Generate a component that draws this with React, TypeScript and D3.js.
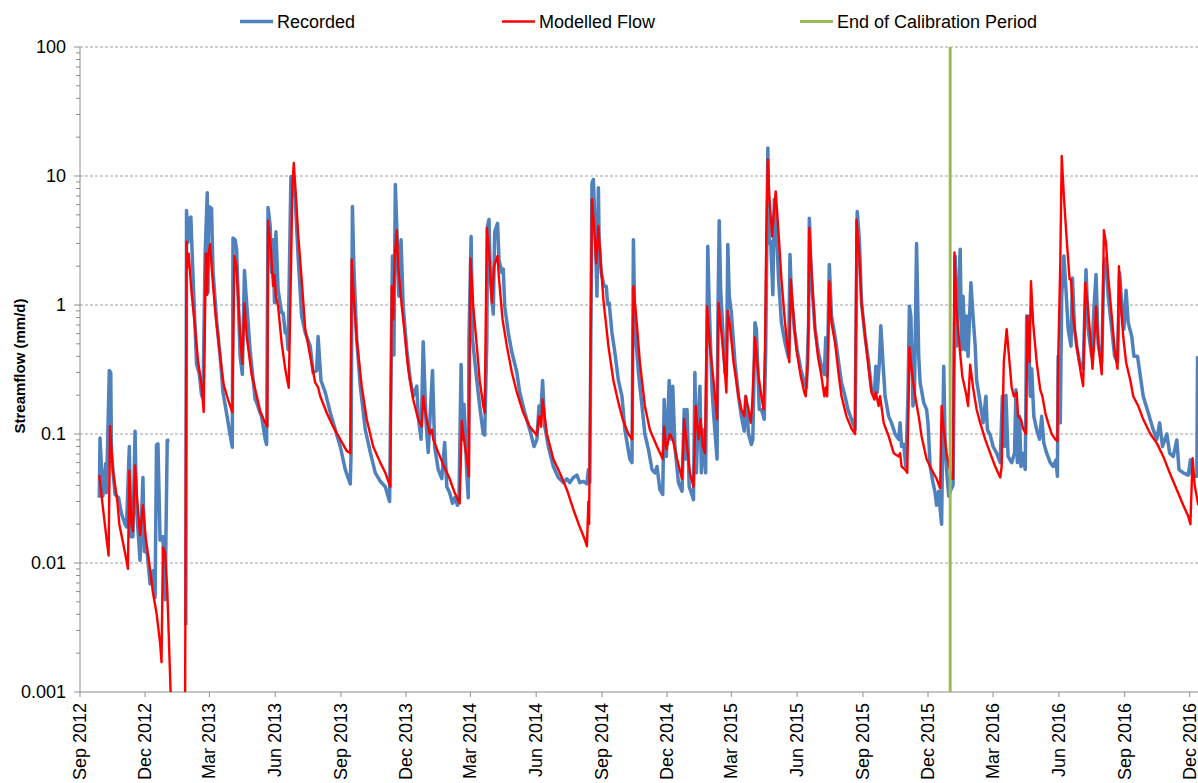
import React from "react";
import * as d3 from "d3";

// daily streamflow, mm/d (at the turning points)
const recorded: [string, number | null][] = [
  ["2012-09-28",0.032],["2012-09-29",0.093],["2012-10-03",0.033],["2012-10-07",0.059],["2012-10-08",0.035],["2012-10-12",0.31],["2012-10-14",0.3],["2012-10-15",0.071],["2012-10-20",0.034],["2012-10-25",0.032],["2012-10-29",0.024],["2012-11-03",0.02],["2012-11-05",0.019],["2012-11-09",0.08],["2012-11-11",0.016],["2012-11-14",0.016],["2012-11-17",0.105],["2012-11-19",0.027],["2012-11-24",0.0105],["2012-11-28",0.046],["2012-11-30",0.0123],["2012-12-04",0.012],["2012-12-08",0.0069],["2012-12-12",0.0087],["2012-12-15",0.0054],["2012-12-17",0.082],["2012-12-19",0.084],["2012-12-22",0.015],["2012-12-26",0.016],["2012-12-29",0.0052],["2013-01-01",0.089],["2013-01-04",0.09],["2013-01-05",null],
  ["2013-01-27",0.0033],["2013-01-28",5.4],["2013-01-30",3.05],["2013-01-31",4.6],["2013-02-03",4.8],["2013-02-06",1.72],["2013-02-09",0.66],["2013-02-11",0.35],["2013-02-15",0.29],["2013-02-18",0.2],["2013-02-20",0.19],["2013-02-23",2.5],["2013-02-26",7.4],["2013-02-27",1.25],["2013-02-28",5.8],["2013-03-04",5.6],["2013-03-06",1.85],["2013-03-11",0.76],["2013-03-16",0.4],["2013-03-20",0.21],["2013-03-25",0.145],["2013-03-30",0.098],["2013-04-02",0.079],["2013-04-03",3.3],["2013-04-06",3.2],["2013-04-08",2.7],["2013-04-13",0.4],["2013-04-16",0.29],["2013-04-19",1.85],["2013-04-21",1.25],["2013-04-27",0.44],["2013-05-04",0.185],["2013-05-06",0.176],["2013-05-11",0.145],["2013-05-13",0.137],["2013-05-18",0.091],["2013-05-20",0.083],["2013-05-22",5.7],["2013-05-25",4.1],["2013-05-27",1.78],["2013-05-29",3.2],["2013-05-31",1.04],["2013-06-02",3.7],["2013-06-05",1.32],["2013-06-10",0.87],["2013-06-12",0.87],["2013-06-15",0.61],["2013-06-17",0.64],["2013-06-19",0.45],["2013-06-23",9.9],["2013-06-25",9.7],["2013-06-29",6.6],["2013-07-03",2.4],["2013-07-08",0.82],["2013-07-13",0.61],["2013-07-20",0.48],["2013-07-24",0.3],["2013-07-29",0.31],["2013-07-31",0.57],["2013-08-04",0.26],["2013-08-10",0.21],["2013-08-17",0.147],["2013-08-24",0.108],["2013-08-31",0.08],["2013-09-07",0.053],["2013-09-14",0.041],["2013-09-15",0.067],["2013-09-17",5.8],["2013-09-19",2.0],["2013-09-23",0.54],["2013-09-28",0.235],["2013-10-05",0.108],["2013-10-12",0.072],["2013-10-19",0.05],["2013-10-26",0.043],["2013-11-02",0.039],["2013-11-08",0.03],["2013-11-10",0.3],["2013-11-12",2.4],["2013-11-14",0.41],["2013-11-16",8.6],["2013-11-18",4.1],["2013-11-21",1.17],["2013-11-24",3.2],["2013-11-27",0.98],["2013-12-02",0.45],["2013-12-07",0.26],["2013-12-11",0.196],["2013-12-16",0.235],["2013-12-18",0.137],["2013-12-22",0.091],["2013-12-25",0.52],["2013-12-29",0.123],
  ["2014-01-01",0.072],["2014-01-07",0.31],["2014-01-10",0.08],["2014-01-15",0.053],["2014-01-20",0.045],["2014-01-24",0.086],["2014-01-27",0.039],["2014-01-31",0.035],["2014-02-04",0.029],["2014-02-07",0.032],["2014-02-11",0.028],["2014-02-13",0.031],["2014-02-16",0.345],["2014-02-18",0.091],["2014-02-20",0.17],["2014-02-24",0.05],["2014-02-26",0.032],["2014-02-27",0.54],["2014-03-02",3.4],["2014-03-04",0.54],["2014-03-10",0.26],["2014-03-14",0.165],["2014-03-19",0.1],["2014-03-21",0.098],["2014-03-24",0.54],["2014-03-25",4.1],["2014-03-27",4.6],["2014-03-29",1.58],["2014-04-02",0.85],["2014-04-04",3.7],["2014-04-08",4.3],["2014-04-10",2.25],["2014-04-14",1.78],["2014-04-16",1.9],["2014-04-18",0.98],["2014-04-23",0.61],["2014-04-28",0.43],["2014-05-05",0.3],["2014-05-09",0.21],["2014-05-16",0.147],["2014-05-23",0.108],["2014-05-29",0.08],["2014-06-02",0.091],["2014-06-05",0.165],["2014-06-07",0.13],["2014-06-10",0.26],["2014-06-13",0.115],["2014-06-18",0.08],["2014-06-25",0.056],["2014-07-02",0.046],["2014-07-09",0.042],["2014-07-14",0.045],["2014-07-18",0.042],["2014-07-23",0.046],["2014-07-28",0.048],["2014-08-01",0.042],["2014-08-06",0.043],["2014-08-11",0.041],["2014-08-13",0.053],["2014-08-15",0.042],["2014-08-18",8.8],["2014-08-20",9.4],["2014-08-23",3.2],["2014-08-25",1.17],["2014-08-27",8.1],["2014-08-28",3.2],["2014-08-31",1.78],["2014-09-04",1.4],["2014-09-07",1.4],["2014-09-09",1.01],["2014-09-11",1.04],["2014-09-15",0.61],["2014-09-19",0.43],["2014-09-24",0.26],["2014-09-29",0.196],["2014-10-03",0.108],["2014-10-07",0.08],["2014-10-10",0.064],["2014-10-13",0.06],["2014-10-15",3.2],["2014-10-17",0.69],["2014-10-22",0.3],["2014-10-27",0.165],["2014-10-31",0.1],["2014-11-05",0.076],["2014-11-10",0.053],["2014-11-14",0.05],["2014-11-17",0.056],["2014-11-21",0.037],["2014-11-25",0.034],["2014-11-27",0.185],["2014-11-30",0.067],["2014-12-02",0.122],["2014-12-04",0.26],["2014-12-07",0.091],["2014-12-09",0.235],["2014-12-12",0.08],["2014-12-17",0.042],["2014-12-22",0.036],["2014-12-25",0.155],["2014-12-27",0.064],["2014-12-29",0.155],
  ["2015-01-01",0.039],["2015-01-04",0.035],["2015-01-07",0.031],["2015-01-09",0.3],["2015-01-11",0.05],["2015-01-14",0.146],["2015-01-16",0.235],["2015-01-18",0.05],["2015-01-21",0.108],["2015-01-24",0.05],["2015-01-27",2.85],["2015-01-29",0.98],["2015-02-02",0.22],["2015-02-04",0.146],["2015-02-09",0.064],["2015-02-10",0.69],["2015-02-12",4.5],["2015-02-14",1.32],["2015-02-18",0.5],["2015-02-20",0.3],["2015-02-22",0.28],["2015-02-24",2.95],["2015-02-26",1.17],["2015-03-01",0.87],["2015-03-06",0.36],["2015-03-11",0.196],["2015-03-15",0.137],["2015-03-19",0.105],["2015-03-21",0.196],["2015-03-25",0.1],["2015-03-29",0.083],["2015-03-31",0.091],["2015-04-03",0.73],["2015-04-05",0.65],["2015-04-09",0.155],["2015-04-12",0.155],["2015-04-16",0.13],["2015-04-18",0.45],["2015-04-21",16.5],["2015-04-23",3.0],["2015-04-25",3.1],["2015-04-28",1.2],["2015-04-30",6.6],["2015-05-02",5.2],["2015-05-06",1.58],["2015-05-10",0.73],["2015-05-15",0.51],["2015-05-20",0.39],["2015-05-22",2.46],["2015-05-24",1.17],["2015-05-28",0.65],["2015-06-01",0.45],["2015-06-06",0.32],["2015-06-11",0.25],["2015-06-14",0.23],["2015-06-17",0.73],["2015-06-18",4.7],["2015-06-21",1.58],["2015-06-26",0.65],["2015-06-30",0.45],["2015-07-05",0.335],["2015-07-09",0.29],["2015-07-11",0.56],["2015-07-13",0.28],["2015-07-16",2.06],["2015-07-19",0.82],["2015-07-24",0.57],["2015-07-29",0.36],["2015-08-02",0.25],["2015-08-07",0.196],["2015-08-11",0.155],["2015-08-16",0.13],["2015-08-21",0.108],["2015-08-24",5.3],["2015-08-27",3.2],["2015-08-30",1.04],["2015-09-04",0.57],["2015-09-09",0.36],["2015-09-13",0.22],["2015-09-17",0.196],["2015-09-19",0.335],["2015-09-21",0.21],["2015-09-24",0.36],["2015-09-26",0.69],["2015-09-29",0.36],["2015-10-02",0.196],["2015-10-07",0.137],["2015-10-11",0.122],["2015-10-16",0.1],["2015-10-21",0.091],["2015-10-23",0.122],["2015-10-25",0.08],["2015-10-28",0.083],["2015-10-31",0.056],["2015-11-03",0.196],["2015-11-05",0.98],["2015-11-07",0.82],["2015-11-10",0.165],["2015-11-12",0.196],["2015-11-15",3.0],["2015-11-18",0.4],["2015-11-20",0.25],["2015-11-25",0.175],["2015-11-29",0.155],["2015-12-01",0.122],["2015-12-04",0.056],["2015-12-08",0.042],["2015-12-11",0.035],["2015-12-13",0.028],["2015-12-16",0.036],["2015-12-18",0.026],["2015-12-20",0.02],["2015-12-23",0.335],["2015-12-25",0.08],["2015-12-27",0.053],["2015-12-30",0.033],
  ["2016-01-02",0.037],["2016-01-05",0.04],["2016-01-08",2.4],["2016-01-10",0.48],["2016-01-12",1.04],["2016-01-15",2.7],["2016-01-17",0.45],["2016-01-19",1.17],["2016-01-22",0.45],["2016-01-24",0.82],["2016-01-26",0.4],["2016-01-30",1.49],["2016-02-02",0.82],["2016-02-05",0.48],["2016-02-07",0.26],["2016-02-12",0.175],["2016-02-16",0.122],["2016-02-20",0.196],["2016-02-22",0.108],["2016-02-26",0.098],["2016-03-01",0.08],["2016-03-06",0.071],["2016-03-11",0.06],["2016-03-14",0.196],["2016-03-17",0.08],["2016-03-19",0.2],["2016-03-22",0.067],["2016-03-27",0.06],["2016-03-31",0.071],["2016-04-02",0.22],["2016-04-04",0.06],["2016-04-07",0.137],["2016-04-09",0.056],["2016-04-11",0.071],["2016-04-15",0.053],["2016-04-17",0.82],["2016-04-19",0.82],["2016-04-22",0.196],["2016-04-24",0.32],["2016-04-27",0.137],["2016-05-01",0.108],["2016-05-05",0.091],["2016-05-08",0.137],["2016-05-11",0.085],["2016-05-15",0.071],["2016-05-20",0.06],["2016-05-24",0.056],["2016-05-28",0.063],["2016-05-30",0.047],["2016-05-31",0.4],["2016-06-03",0.122],["2016-06-05",1.17],["2016-06-08",2.4],["2016-06-11",1.3],["2016-06-14",0.65],["2016-06-18",0.48],["2016-06-20",1.62],["2016-06-23",0.65],["2016-06-26",0.48],["2016-06-30",0.36],["2016-07-05",0.32],["2016-07-09",1.88],["2016-07-12",0.65],["2016-07-17",0.4],["2016-07-20",0.92],["2016-07-23",1.72],["2016-07-26",0.5],["2016-07-31",0.36],["2016-08-03",2.1],["2016-08-06",2.3],["2016-08-09",1.17],["2016-08-14",0.65],["2016-08-18",0.4],["2016-08-22",0.36],["2016-08-25",1.78],["2016-08-29",0.82],["2016-08-31",0.65],["2016-09-03",1.3],["2016-09-06",0.73],["2016-09-11",0.57],["2016-09-14",0.4],["2016-09-19",0.4],["2016-09-23",0.28],["2016-09-27",0.196],["2016-10-04",0.146],["2016-10-11",0.108],["2016-10-16",0.091],["2016-10-20",0.122],["2016-10-24",0.08],["2016-10-30",0.1],["2016-11-03",0.071],["2016-11-08",0.067],["2016-11-13",0.09],["2016-11-16",0.053],["2016-11-22",0.05],["2016-11-29",0.048],["2016-12-02",0.063],["2016-12-05",0.047],["2016-12-11",0.047],["2016-12-12",0.4],
];

const modelled: [string, number][] = [
  ["2012-09-28",0.048],["2012-10-03",0.027],["2012-10-08",0.0156],["2012-10-11",0.0114],["2012-10-13",0.115],["2012-10-17",0.052],["2012-10-23",0.031],["2012-10-26",0.02],["2012-10-31",0.0145],["2012-11-05",0.0105],["2012-11-07",0.009],["2012-11-09",0.052],["2012-11-12",0.02],["2012-11-14",0.0176],["2012-11-17",0.057],["2012-11-20",0.031],["2012-11-24",0.0164],["2012-11-28",0.028],["2012-12-02",0.0156],["2012-12-07",0.0098],["2012-12-12",0.0059],["2012-12-17",0.0041],["2012-12-22",0.0024],["2012-12-24",0.0017],["2012-12-26",0.0132],["2012-12-29",0.012],["2013-01-01",0.0063],["2013-01-06",0.0009],["2013-01-12",0.0003],["2013-01-20",0.0003],["2013-01-26",0.0009],
  ["2013-01-28",3.1],["2013-01-29",1.95],["2013-01-31",2.5],["2013-02-04",1.25],["2013-02-09",0.66],["2013-02-13",0.37],["2013-02-18",0.24],["2013-02-21",0.148],["2013-02-24",2.5],["2013-02-26",1.2],["2013-02-27",2.4],["2013-03-02",2.96],["2013-03-04",2.0],["2013-03-09",0.91],["2013-03-16",0.4],["2013-03-21",0.24],["2013-03-27",0.185],["2013-04-02",0.148],["2013-04-05",2.4],["2013-04-08",1.95],["2013-04-13",0.58],["2013-04-16",0.35],["2013-04-19",1.03],["2013-04-22",0.58],["2013-04-29",0.29],["2013-05-06",0.2],["2013-05-11",0.15],["2013-05-18",0.122],["2013-05-21",0.114],["2013-05-22",4.5],["2013-05-26",2.7],["2013-05-29",1.4],["2013-05-31",1.7],["2013-06-02",1.17],["2013-06-05",0.98],["2013-06-10",0.51],["2013-06-15",0.32],["2013-06-18",0.26],["2013-06-20",0.228],["2013-06-23",1.78],["2013-06-25",8.3],["2013-06-27",12.6],["2013-06-30",7.0],["2013-07-03",3.6],["2013-07-08",1.58],["2013-07-13",0.65],["2013-07-20",0.4],["2013-07-27",0.25],["2013-07-31",0.23],["2013-08-03",0.196],["2013-08-12",0.146],["2013-08-21",0.114],["2013-08-31",0.091],["2013-09-09",0.074],["2013-09-14",0.071],["2013-09-16",2.25],["2013-09-19",1.1],["2013-09-23",0.54],["2013-09-30",0.235],["2013-10-07",0.13],["2013-10-16",0.08],["2013-10-26",0.06],["2013-11-02",0.05],["2013-11-09",0.039],["2013-11-11",1.4],["2013-11-13",0.77],["2013-11-15",2.25],["2013-11-18",3.8],["2013-11-20",2.0],["2013-11-25",0.98],["2013-11-30",0.54],["2013-12-04",0.32],["2013-12-11",0.185],["2013-12-18",0.13],["2013-12-23",0.114],["2013-12-25",0.196],["2013-12-29",0.137],
  ["2014-01-03",0.1],["2014-01-06",0.108],["2014-01-08",0.091],["2014-01-15",0.072],["2014-01-22",0.058],["2014-01-31",0.045],["2014-02-07",0.035],["2014-02-14",0.029],["2014-02-17",0.126],["2014-02-19",0.1],["2014-02-24",0.064],["2014-02-27",0.047],["2014-03-01",2.3],["2014-03-05",0.98],["2014-03-10",0.48],["2014-03-14",0.26],["2014-03-19",0.165],["2014-03-21",0.146],["2014-03-24",3.96],["2014-03-27",2.7],["2014-03-31",1.04],["2014-04-03",2.0],["2014-04-08",2.4],["2014-04-10",1.6],["2014-04-15",0.77],["2014-04-21",0.48],["2014-04-28",0.3],["2014-05-05",0.21],["2014-05-14",0.146],["2014-05-23",0.114],["2014-06-02",0.098],["2014-06-05",0.137],["2014-06-08",0.114],["2014-06-10",0.185],["2014-06-16",0.1],["2014-06-25",0.064],["2014-07-04",0.05],["2014-07-14",0.037],["2014-07-23",0.026],["2014-08-01",0.019],["2014-08-08",0.0152],["2014-08-11",0.0135],["2014-08-13",0.03],["2014-08-14",0.02],["2014-08-18",6.6],["2014-08-21",4.1],["2014-08-24",2.1],["2014-08-27",4.1],["2014-08-30",2.25],["2014-09-03",1.1],["2014-09-10",0.48],["2014-09-17",0.26],["2014-09-24",0.175],["2014-09-30",0.13],["2014-10-08",0.1],["2014-10-13",0.091],["2014-10-15",1.4],["2014-10-20",0.69],["2014-10-24",0.36],["2014-10-31",0.165],["2014-11-07",0.108],["2014-11-17",0.08],["2014-11-25",0.064],["2014-11-27",0.114],["2014-11-30",0.076],["2014-12-05",0.1],["2014-12-09",0.091],["2014-12-15",0.064],["2014-12-22",0.045],["2014-12-25",0.13],["2014-12-29",0.08],
  ["2015-01-02",0.05],["2015-01-07",0.039],["2015-01-10",0.165],["2015-01-14",0.091],["2015-01-17",0.13],["2015-01-20",0.08],["2015-01-23",0.071],["2015-01-26",0.98],["2015-01-30",0.48],["2015-02-04",0.26],["2015-02-09",0.13],["2015-02-11",1.04],["2015-02-16",0.54],["2015-02-20",0.3],["2015-02-22",0.21],["2015-02-24",0.9],["2015-02-27",0.69],["2015-03-04",0.36],["2015-03-11",0.196],["2015-03-15",0.155],["2015-03-19",0.137],["2015-03-21",0.196],["2015-03-25",0.155],["2015-03-28",0.122],["2015-03-30",0.165],["2015-04-03",0.56],["2015-04-08",0.28],["2015-04-12",0.196],["2015-04-15",0.155],["2015-04-17",0.45],["2015-04-19",3.8],["2015-04-21",13.4],["2015-04-23",7.0],["2015-04-27",3.4],["2015-04-29",4.9],["2015-05-02",7.6],["2015-05-06",3.6],["2015-05-10",1.58],["2015-05-15",0.73],["2015-05-19",0.45],["2015-05-21",0.36],["2015-05-23",1.58],["2015-05-27",0.82],["2015-05-31",0.45],["2015-06-06",0.28],["2015-06-11",0.21],["2015-06-13",0.196],["2015-06-16",0.36],["2015-06-18",3.96],["2015-06-21",1.88],["2015-06-26",0.65],["2015-06-30",0.4],["2015-07-05",0.28],["2015-07-09",0.196],["2015-07-11",0.23],["2015-07-13",0.196],["2015-07-16",1.53],["2015-07-19",0.73],["2015-07-24",0.51],["2015-07-29",0.29],["2015-08-02",0.196],["2015-08-09",0.137],["2015-08-16",0.11],["2015-08-21",0.1],["2015-08-23",4.6],["2015-08-27",2.4],["2015-08-30",1.04],["2015-09-04",0.57],["2015-09-09",0.32],["2015-09-13",0.21],["2015-09-17",0.185],["2015-09-19",0.21],["2015-09-23",0.165],["2015-09-25",0.196],["2015-09-30",0.122],["2015-10-07",0.096],["2015-10-14",0.071],["2015-10-21",0.067],["2015-10-23",0.071],["2015-10-25",0.056],["2015-10-30",0.053],["2015-11-02",0.05],["2015-11-05",0.47],["2015-11-08",0.32],["2015-11-13",0.196],["2015-11-18",0.137],["2015-11-22",0.096],["2015-11-29",0.064],["2015-12-06",0.053],["2015-12-13",0.045],["2015-12-18",0.038],["2015-12-20",0.165],["2015-12-23",0.108],["2015-12-27",0.071],
  ["2016-01-03",0.045],["2016-01-05",0.045],["2016-01-07",2.55],["2016-01-10",0.9],["2016-01-14",0.48],["2016-01-18",0.28],["2016-01-24",0.196],["2016-01-26",0.165],["2016-01-29",0.345],["2016-02-02",0.23],["2016-02-07",0.155],["2016-02-12",0.122],["2016-02-19",0.091],["2016-02-26",0.071],["2016-03-04",0.056],["2016-03-11",0.046],["2016-03-13",0.056],["2016-03-16",0.36],["2016-03-20",0.65],["2016-03-24",0.36],["2016-03-27",0.23],["2016-03-30",0.196],["2016-04-03",0.21],["2016-04-05",0.137],["2016-04-09",0.13],["2016-04-12",0.11],["2016-04-16",0.1],["2016-04-18",0.82],["2016-04-21",0.36],["2016-04-23",1.53],["2016-04-26",0.73],["2016-05-01",0.36],["2016-05-06",0.22],["2016-05-09",0.196],["2016-05-13",0.146],["2016-05-17",0.122],["2016-05-22",0.1],["2016-05-27",0.091],["2016-05-30",0.088],["2016-05-31",0.36],["2016-06-03",2.1],["2016-06-05",14.3],["2016-06-08",7.0],["2016-06-12",3.2],["2016-06-16",1.58],["2016-06-18",1.58],["2016-06-21",0.82],["2016-06-26",0.48],["2016-07-02",0.29],["2016-07-05",0.235],["2016-07-08",1.49],["2016-07-11",1.04],["2016-07-15",0.57],["2016-07-18",0.32],["2016-07-21",0.57],["2016-07-23",0.98],["2016-07-26",0.51],["2016-07-30",0.32],["2016-07-31",0.29],["2016-08-03",3.8],["2016-08-06",3.0],["2016-08-09",1.67],["2016-08-14",0.82],["2016-08-18",0.45],["2016-08-22",0.32],["2016-08-24",2.0],["2016-08-26",1.17],["2016-08-30",0.57],["2016-09-03",0.36],["2016-09-09",0.26],["2016-09-13",0.196],["2016-09-20",0.165],["2016-09-27",0.13],["2016-10-07",0.1],["2016-10-16",0.085],["2016-10-25",0.067],["2016-11-03",0.05],["2016-11-13",0.037],["2016-11-22",0.028],["2016-11-29",0.023],["2016-12-02",0.02],["2016-12-05",0.065],["2016-12-08",0.04],["2016-12-13",0.028],
];

const calibrationEnd = "2016-01-01";
const xStart = "2012-09-01";
const xLastTick = "2016-12-01";
const yMajor = [0.001, 0.01, 0.1, 1, 10, 100];
const yLabels = ["0.001", "0.01", "0.1", "1", "10", "100"];
const legend = [
  { label: "Recorded", color: "#4F81BD", width: 3.5, x: 240 },
  { label: "Modelled Flow", color: "#FF0000", width: 2.4, x: 502 },
  { label: "End of Calibration Period", color: "#9BBB59", width: 3, x: 800 },
];

const W = 1198;
const H = 783;
const left = 80;
const right = 1198;
const top = 47;
const bottom = 692;
const font = "'Liberation Sans', Arial, sans-serif";

export default function App() {
  const parse = d3.timeParse("%Y-%m-%d");
  const x = d3.scaleTime()
    .domain([parse(xStart)!, parse(xLastTick)!])
    .range([left, 1189.7]);
  const y = d3.scaleLog().domain([0.001, 100]).range([bottom, top]);

  const line = d3.line<[string, number | null]>()
    .defined(d => d[1] !== null)
    .x(d => x(parse(d[0])!))
    .y(d => y(d[1] as number));

  const xTicks = d3.timeMonth.range(parse(xStart)!, d3.timeDay.offset(parse(xLastTick)!, 1), 3);
  const fmt = d3.timeFormat("%b %Y");
  const minor = y.ticks().filter(t => !yMajor.some(m => Math.abs(m - t) < 1e-12));
  const xCal = x(parse(calibrationEnd)!);

  return (
    <svg width={W} height={H} style={{ position: "absolute", left: 0, top: 0, background: "#fff" }} fontFamily={font}>
      <defs>
        <clipPath id="plot">
          <rect x={left} y={top - 2} width={right - left} height={bottom - top + 2} />
        </clipPath>
      </defs>

      {/* gridlines */}
      {yMajor.slice(1).map(v => (
        <line key={v} x1={left} x2={right} y1={y(v)} y2={y(v)} stroke="#a0a0a0" strokeDasharray="3,2" />
      ))}

      {/* y axis */}
      <line x1={left} x2={left} y1={top} y2={bottom} stroke="#8c8c8c" />
      {minor.map(v => (
        <line key={"m" + v} x1={left - 4} x2={left} y1={y(v)} y2={y(v)} stroke="#8c8c8c" />
      ))}
      {yMajor.map((v, i) => (
        <g key={"y" + v}>
          <line x1={left - 6} x2={left} y1={y(v)} y2={y(v)} stroke="#8c8c8c" />
          <text x={66} y={y(v)} dy="0.35em" textAnchor="end" fontSize={18} fill="#000">{yLabels[i]}</text>
        </g>
      ))}
      <text transform={`translate(20,366) rotate(-90)`} textAnchor="middle" dy="0.35em" fontSize={15} fontWeight="bold" fill="#000">
        Streamflow (mm/d)
      </text>

      {/* x axis */}
      <line x1={left} x2={right} y1={bottom} y2={bottom} stroke="#8c8c8c" />
      {xTicks.map(t => (
        <g key={+t}>
          <line x1={x(t)} x2={x(t)} y1={bottom} y2={bottom + 5} stroke="#8c8c8c" />
          <text transform={`translate(${x(t)},${bottom + 11}) rotate(-90)`} textAnchor="end" dy="0.33em" fontSize={18} fill="#000">
            {fmt(t)}
          </text>
        </g>
      ))}

      {/* series */}
      <g clipPath="url(#plot)">
        <path d={line(recorded) || ""} fill="none" stroke="#4F81BD" strokeWidth={3.5} strokeLinejoin="round" />
        <path d={line(modelled) || ""} fill="none" stroke="#FF0000" strokeWidth={2.4} strokeLinejoin="round" />
      </g>
      <line x1={xCal} x2={xCal} y1={top} y2={bottom} stroke="#9BBB59" strokeWidth={3} />

      {/* legend */}
      {legend.map(l => (
        <g key={l.label}>
          <line x1={l.x} x2={l.x + 33} y1={21.5} y2={21.5} stroke={l.color} strokeWidth={l.width} />
          <text x={l.x + 37} y={28} fontSize={18} fill="#000">{l.label}</text>
        </g>
      ))}
    </svg>
  );
}
